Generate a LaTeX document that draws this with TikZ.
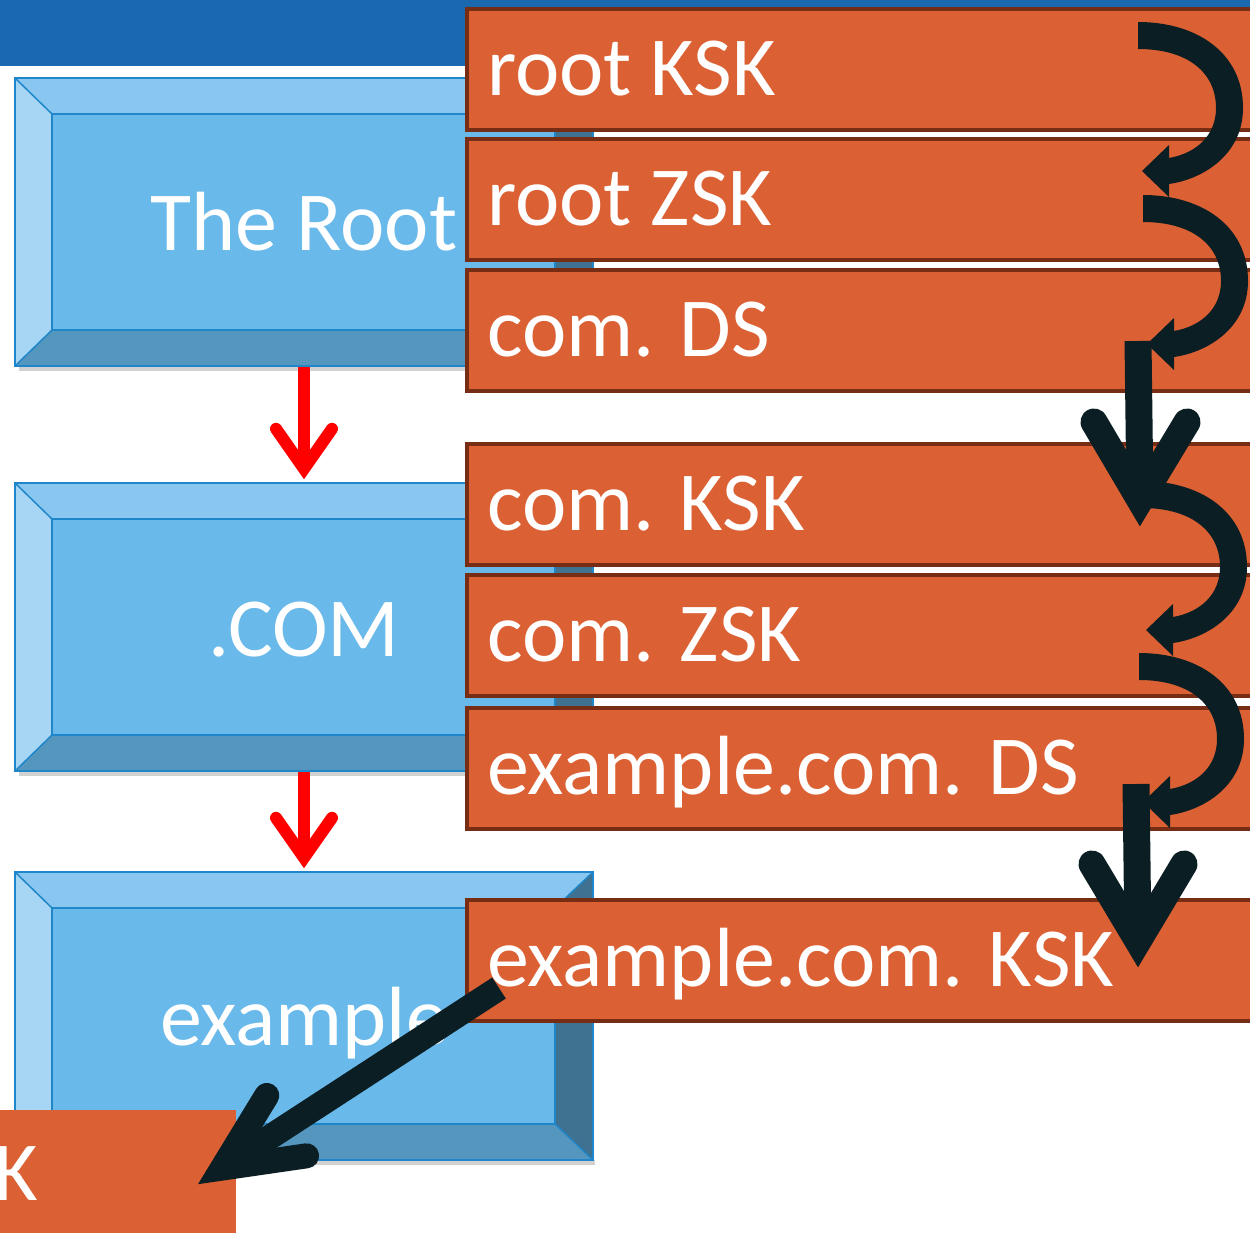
\documentclass[tikz,border=0pt]{standalone}
\usepackage{fontspec}
\setmainfont{Carlito}
\usetikzlibrary{calc}
\definecolor{barblue}{HTML}{1A69B0}
\definecolor{bcenter}{HTML}{69B9EA}
\definecolor{btop}{HTML}{89C7F1}
\definecolor{bleft}{HTML}{A7D6F4}
\definecolor{bbottom}{HTML}{5596BF}
\definecolor{bright}{HTML}{3F7191}
\definecolor{bline}{HTML}{1F86C9}
\definecolor{ofill}{HTML}{DB6134}
\definecolor{oline}{HTML}{772D14}
\definecolor{darkarr}{HTML}{0B1E23}
\newcommand\bevelbox[1]{%
  \fill[black!18] ($(#1.south west)+(4,0)$) rectangle ($(#1.south east)+(2,5)$);
  \fill[btop] (#1.north west) -- (#1.north east) -- ($(#1.north east)+(-38,36)$) -- ($(#1.north west)+(37,36)$) -- cycle;
  \fill[bleft] (#1.north west) -- ($(#1.north west)+(37,36)$) -- ($(#1.south west)+(37,-36)$) -- (#1.south west) -- cycle;
  \fill[bbottom] (#1.south west) -- ($(#1.south west)+(37,-36)$) -- ($(#1.south east)+(-38,-36)$) -- (#1.south east) -- cycle;
  \fill[bright] (#1.north east) -- ($(#1.north east)+(-38,36)$) -- ($(#1.south east)+(-38,-36)$) -- (#1.south east) -- cycle;
  \draw[bline, line width=1.5pt] (#1.north west) rectangle (#1.south east);
  \draw[bline, line width=1.5pt] ($(#1.north west)+(37,36)$) rectangle ($(#1.south east)+(-38,-36)$);
  \draw[bline, line width=1.5pt] (#1.north west) -- ($(#1.north west)+(37,36)$)
     (#1.south west) -- ($(#1.south west)+(37,-36)$)
     (#1.north east) -- ($(#1.north east)+(-38,36)$)
     (#1.south east) -- ($(#1.south east)+(-38,-36)$);
}
\tikzset{
  bbox/.style={rectangle, minimum width=578pt, minimum height=288pt, inner sep=0pt, fill=bcenter},
  btext/.style={anchor=base, inner sep=0pt, text=white, font=\fontsize{84}{92}\selectfont},
  obox/.style={rectangle, anchor=north west, minimum width=840pt, minimum height=121pt, inner sep=0pt, fill=ofill, draw=oline, line width=4pt},
  otext/.style={anchor=base west, inner sep=0pt, text=white, font=\fontsize{84}{92}\selectfont},
  redarr/.style={draw=red, line width=12pt, line cap=round, line join=miter},
  darkline/.style={draw=darkarr, line width=27pt, line cap=round, line join=miter},
  curvarr/.pic={
    \fill[darkarr] (-4,-1) .. controls (55,-1) and (101,30) .. (101,85)
      .. controls (101,131) and (62,156) .. (27,161) -- (27,174) -- (0,148) -- (27,122) -- (27,135)
      .. controls (55,130) and (74,112) .. (74,85) .. controls (74,49) and (45,26) .. (-4,26) -- cycle;
  }
}
\begin{document}
\begin{tikzpicture}[x=1pt,y=-1pt]
\useasboundingbox (0,0) rectangle (1250,1232);
\clip (0,0) rectangle (1250,1232);
\fill[white] (0,0) rectangle (1250,1232);
% top bar
\fill[barblue] (0,0) rectangle (1250,66);
% blue zone boxes
\node[bbox] (root) at (304,222) {};
\bevelbox{root}
\node[btext] (roott) at ($(root.center)+(0,28)$) {The Root};
\node[bbox] (com) at (304,627) {};
\bevelbox{com}
\node[btext] (comt) at ($(com.center)+(0,29)$) {.COM};
\node[bbox] (ex) at (304,1016) {};
\bevelbox{ex}
\node[btext] (ext) at ($(ex.center)+(0,29)$) {example};
% red arrows
\coordinate (r1t) at ($(com.north)+(0,-14)$);
\coordinate (r2t) at ($(ex.north)+(0,-14)$);
\draw[redarr, line cap=butt] ($(root.south)+(0,1)$) -- (r1t);
\draw[redarr] ($(r1t)+(-28,-40)$) -- (r1t) -- ($(r1t)+(28,-40)$);
\draw[redarr, line cap=butt] ($(com.south)+(0,1)$) -- (r2t);
\draw[redarr] ($(r2t)+(-28,-40)$) -- (r2t) -- ($(r2t)+(28,-40)$);
% orange record boxes
\node[obox] (rk) at (465,7) {};
\node[otext] at ($(rk.north west)+(22,88)$) {root KSK};
\node[obox] (rz) at (465,137) {};
\node[otext] at ($(rz.north west)+(22,88)$) {root ZSK};
\node[obox] (cds) at (465,268) {};
\node[otext] at ($(cds.north west)+(22,88)$) {com. DS};
\node[obox] (ck) at (465,442) {};
\node[otext] at ($(ck.north west)+(22,88)$) {com. KSK};
\node[obox] (cz) at (465,573) {};
\node[otext] at ($(cz.north west)+(22,88)$) {com. ZSK};
\node[obox] (eds) at (465,706) {};
\node[otext] at ($(eds.north west)+(22,88)$) {example.com. DS};
\node[obox] (ek) at (465,898) {};
\node[otext] at ($(ek.north west)+(22,88)$) {example.com. KSK};
% bottom-left record box
\node[rectangle, anchor=north west, minimum width=236pt, minimum height=130pt, inner sep=0pt, fill=ofill] (ez) at (0,1110) {};
\node[anchor=base east, inner sep=0pt, text=white, font=\fontsize{84}{92}\selectfont] at (38,1200) {K};
% curved arrows
\pic at (1142,23) {curvarr};
\pic at (1147,196) {curvarr};
\pic at (1146,482) {curvarr};
\pic at (1143,654) {curvarr};
% straight down arrows
\coordinate (d1s) at (1138,341);
\coordinate (d1t) at (1140,500);
\draw[darkline, line cap=butt] (d1s) -- (d1t);
\draw[darkline] (1094,422) -- (d1t) -- (1187,422);
\coordinate (d2s) at (1136,784);
\coordinate (d2t) at (1138,941);
\draw[darkline, line cap=butt] (d2s) -- (d2t);
\draw[darkline] (1092,864) -- (d2t) -- (1184,864);
% diagonal arrow
\coordinate (gs) at (499,988);
\coordinate (gt) at (222.5,1168);
\draw[darkline, line width=25pt, line cap=butt] (gs) -- (gt);
\draw[darkline, line width=25pt] (266.8,1095.4) -- (gt) -- (306.6,1155.8);
\end{tikzpicture}
\end{document}
